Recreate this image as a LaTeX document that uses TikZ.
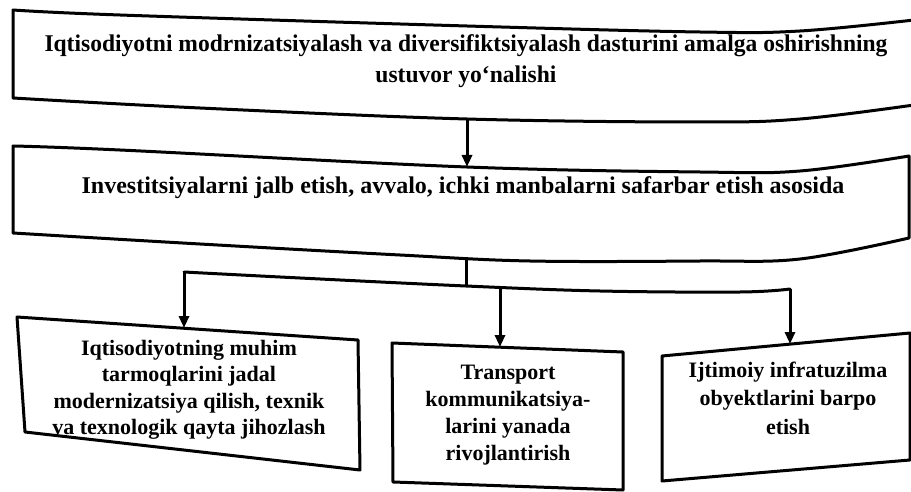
\documentclass[tikz,border=0pt]{standalone}
\usepackage{fontspec}
\setmainfont{Liberation Serif}
\newfontfamily\condfont[FakeStretch=0.98]{Liberation Serif}
\usetikzlibrary{arrows.meta}
\tikzset{
  edge/.style={line width=3pt, line join=round},
  arr/.style={line width=3pt, -{Triangle[width=10pt,length=12pt]}},
  toptext/.style={font=\condfont\bfseries\fontsize{24}{31}\selectfont, align=center, inner sep=0pt},
  midtext/.style={font=\bfseries\fontsize{24}{30}\selectfont, align=center, inner sep=0pt},
  bottext/.style={font=\bfseries\fontsize{22}{26.5}\selectfont, align=center, inner sep=0pt},
}
\begin{document}
\begin{tikzpicture}[x=1pt,y=-1pt]
\useasboundingbox (0,0) rectangle (911,492);
\fill[white] (0,0) rectangle (911,492);

% box 1 (runs off the right edge)
\draw[edge] plot[smooth,tension=0.6] coordinates {(914,20) (800,31) (700,32) (467,26) (120,15) (13,10)}
  -- plot[smooth,tension=0.6] coordinates {(13,98) (200,108) (467,119) (700,122) (800,119) (914,105)};
\node[toptext] (t1) at (466,61) {Iqtisodiyotni modrnizatsiyalash va diversifiktsiyalash dasturini amalga oshirishning\\ustuvor yo‘nalishi};

% box 2
\draw[edge] plot[smooth,tension=0.6] coordinates {(909,156) (800,171) (700,172) (467,167) (120,150) (13,146)}
  -- plot[smooth,tension=0.6] coordinates {(13,233) (200,244) (400,255) (530,261) (700,261) (800,259) (909,238)} -- cycle;
\node[midtext] (t2) at (463,188) {Investitsiyalarni jalb etish, avvalo, ichki manbalarni safarbar etish asosida};

% bottom boxes
\draw[edge] (17,317) -- (358,340) -- (360,470) -- (25,432) -- cycle;
\node[bottext] (t3) at (189,390) {Iqtisodiyotning muhim\\tarmoqlarini jadal\\modernizatsiya qilish, texnik\\va texnologik qayta jihozlash};

\draw[edge] (392,343) -- (623,352) -- (623,490) -- (393,482) -- cycle;
\node[bottext, font=\bfseries\fontsize{22}{27}\selectfont] (t4) at (508,415) {Transport\\kommunikatsiya-\\larini yanada\\rivojlantirish};

\draw[edge] (662,356) -- (910,333) -- (910,460) -- (662,481) -- cycle;
\node[bottext, font=\bfseries\fontsize{22}{28.5}\selectfont] (t5) at (788,398) {Ijtimoiy infratuzilma\\obyektlarini barpo\\etish};

% connector points
\coordinate (b1s) at (467,119);
\coordinate (b2n) at (467,167);
\coordinate (b2s) at (466,258);
\coordinate (j)   at (466,286);
\coordinate (h1)  at (184,272);
\coordinate (h2)  at (500,288);
\coordinate (h3)  at (790,289);
\coordinate (b3n) at (184,328);
\coordinate (b4n) at (500,347);
\coordinate (b5n) at (790,344);

\draw[arr] (b1s) -- (b2n);
\draw[edge] (b2s) -- (j);
\draw[edge, line cap=round] plot[smooth,tension=0.6] coordinates {(h1) (300,278) (j) (600,291) (740,292) (h3)};
\draw[arr] (h1) -- (b3n);
\draw[arr] (h2) -- (b4n);
\draw[arr] (h3) -- (b5n);
\end{tikzpicture}
\end{document}
